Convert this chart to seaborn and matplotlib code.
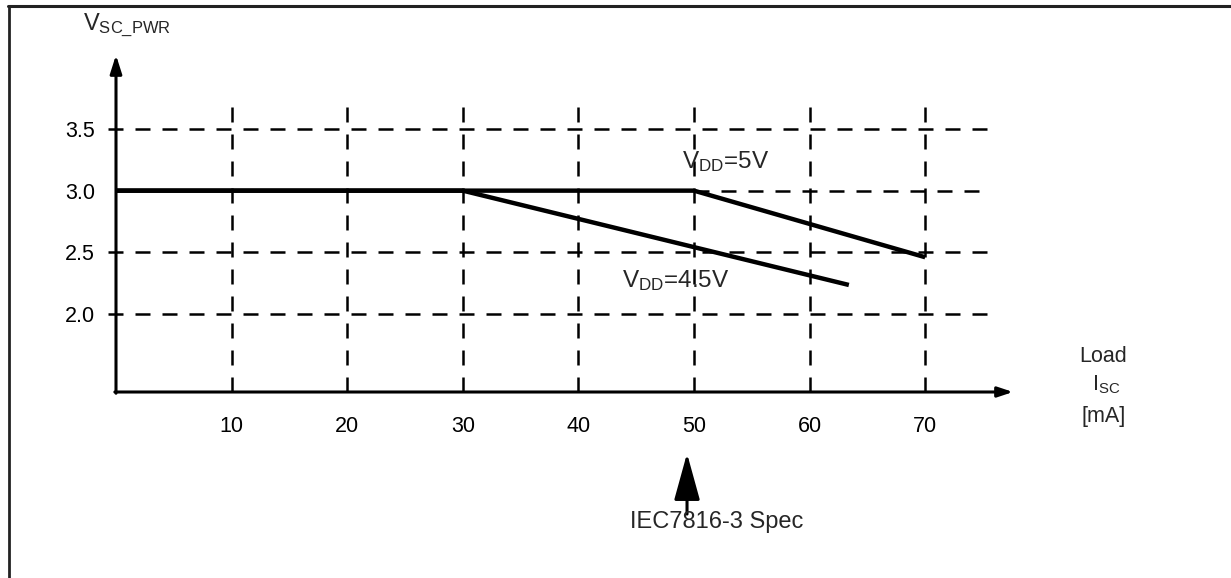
import pandas as pd
import seaborn as sns
import matplotlib.pyplot as plt
from matplotlib.lines import Line2D

# values
load_5v = [0, 50, 70]
vsc_5v = [3.0, 3.0, 2.46]
load_45v = [0, 30, 63.4]
vsc_45v = [3.0, 3.0, 2.235]
x_ticks = [10, 20, 30, 40, 50, 60, 70]
y_ticks = [2.0, 2.5, 3.0, 3.5]
y_tick_labels = ["2.0", "2.5", "3.0", "3.5"]
spec_load = 49.4

df = pd.concat([
    pd.DataFrame({"load": load_5v, "vsc": vsc_5v, "vdd": "5V"}),
    pd.DataFrame({"load": load_45v, "vsc": vsc_45v, "vdd": "4.5V"}),
])

sns.set_style("white")
plt.rcParams['font.family'] = ['Liberation Sans', 'DejaVu Sans']
plt.rcParams['mathtext.fontset'] = 'custom'
plt.rcParams['mathtext.rm'] = 'Liberation Sans'
plt.rcParams['mathtext.it'] = 'Liberation Sans:italic'

fig = plt.figure(figsize=(12.31, 5.78), dpi=100)
W, H = 1231, 578
ax = fig.add_axes([116 / W, 1 - 392 / H, (1013 - 116) / W, (392 - 55) / H])
xmin, xmax = 0, 77.6
ymin, ymax = 1.367, 4.10
ax.set_xlim(xmin, xmax)
ax.set_ylim(ymin, ymax)
ax.patch.set_alpha(0)

# dashed grid
dash = (0, (6, 4.8))
ax.vlines(x_ticks, ymin, 3.72, colors="black", linestyles=dash, lw=1.8)
ax.hlines([3.5, 2.0], -0.7, 75.6, colors="black", linestyles=dash, lw=1.8, clip_on=False)
ax.hlines([2.5], -0.7, 76.0, colors="black", linestyles=dash, lw=1.8, clip_on=False)
ax.hlines([3.0], 50, 75.4, colors="black", linestyles=dash, lw=1.8)

# curves
sns.lineplot(data=df, x="load", y="vsc", hue="vdd", units="vdd", estimator=None,
             sort=False, palette={"5V": "black", "4.5V": "black"}, lw=3.2,
             legend=False, ax=ax, solid_capstyle="butt")

# axes with arrows
for s in ax.spines.values():
    s.set_visible(False)
ax.annotate("", xy=(xmax, ymin), xytext=(xmin - 0.1, ymin), annotation_clip=False,
            arrowprops=dict(arrowstyle="-|>,head_length=0.9,head_width=0.3",
                            lw=2.2, color="black", shrinkA=0, shrinkB=0, mutation_scale=10))
ax.annotate("", xy=(xmin, ymax), xytext=(xmin, ymin - 0.01), annotation_clip=False,
            arrowprops=dict(arrowstyle="-|>,head_length=1.1,head_width=0.35",
                            lw=2.2, color="black", shrinkA=0, shrinkB=0, mutation_scale=10))

ax.set_xticks(x_ticks)
ax.set_xticklabels([str(t) for t in x_ticks])
ax.set_yticks(y_ticks)
ax.set_yticklabels(y_tick_labels)
ax.tick_params(axis="x", direction="in", length=8, width=2, pad=17, labelsize=15.5, colors="black")
ax.tick_params(axis="y", direction="out", length=6, width=2, pad=9, labelsize=15.5, colors="black")
# the 3.0 level runs a bit past the axis in the reference
ax.yaxis.get_major_ticks()[2].tick1line.set_markersize(11)
ax.yaxis.get_major_ticks()[2].tick1line.set_markeredgewidth(3.2)
ax.set_xlabel("")
ax.set_ylabel("")

# labels
ax.text(-2.85, 4.303, r"V$_{\mathrm{SC\_PWR}}$", fontsize=17, ha="left", va="baseline")
ax.text(48.96, 3.184, r"V$_{\mathrm{DD}}$=5V", fontsize=17.5, ha="left", va="baseline")
ax.text(43.77, 2.219, r"V$_{\mathrm{DD}}$=4.5V", fontsize=17.5, ha="left", va="baseline")
ax.text(85.4, 1.651, "Load", fontsize=15.5, ha="center", va="center")
ax.text(85.7, 1.384, r"I$_{\mathrm{SC}}$", fontsize=15.5, ha="center", va="baseline")
ax.text(85.4, 1.165, "[mA]", fontsize=15.5, ha="center", va="center")

# spec marker
ax.annotate("", xy=(spec_load, 0.869), xytext=(spec_load, 0.377), annotation_clip=False,
            arrowprops=dict(arrowstyle="-|>,head_length=2.9,head_width=0.8",
                            lw=2.2, color="black", shrinkA=0, shrinkB=0, mutation_scale=10))
ax.text(52.0, 0.313, "IEC7816-3 Spec", fontsize=17, ha="center", va="center")

# page frame
fig.add_artist(Line2D([9 / W, 9 / W], [0, 1 - 6 / H], color="#222222", lw=2, transform=fig.transFigure))
fig.add_artist(Line2D([8 / W, 1], [1 - 6 / H, 1 - 6 / H], color="#222222", lw=2.2, transform=fig.transFigure))

fig.savefig("out.png", dpi=100)
